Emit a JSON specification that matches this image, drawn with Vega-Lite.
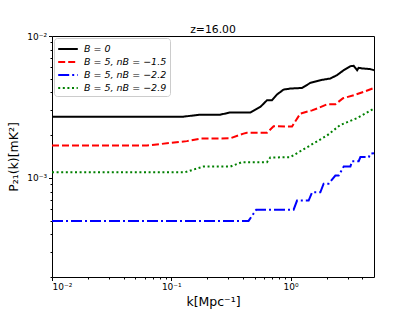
{
  "$schema": "https://vega.github.io/schema/vega-lite/v6.json",
  "width": 322,
  "height": 241,
  "autosize": "none",
  "padding": {"left": 52, "top": 36, "right": 41, "bottom": 34},
  "background": "white",
  "config": {
    "font": "DejaVu Sans",
    "view": {"stroke": "black", "strokeWidth": 1},
    "axis": {
      "grid": false,
      "domainColor": "black",
      "tickColor": "black",
      "labelColor": "black",
      "titleColor": "black",
      "labelFont": "DejaVu Sans",
      "titleFont": "DejaVu Sans",
      "labelFontSize": 9,
      "titleFontSize": 12.5,
      "titleFontWeight": "normal"
    }
  },
  "title": {"text": "z=16.00", "fontSize": 10.8, "fontWeight": "normal", "color": "black", "offset": -3, "font": "DejaVu Sans"},
  "data": {
    "values": [
      {"series": "B = 0", "k": 0.01, "P": 0.00270},
      {"series": "B = 0", "k": 0.1265, "P": 0.00270},
      {"series": "B = 0", "k": 0.1746, "P": 0.00279},
      {"series": "B = 0", "k": 0.257, "P": 0.00279},
      {"series": "B = 0", "k": 0.312, "P": 0.00289},
      {"series": "B = 0", "k": 0.459, "P": 0.00289},
      {"series": "B = 0", "k": 0.557, "P": 0.00316},
      {"series": "B = 0", "k": 0.634, "P": 0.003525},
      {"series": "B = 0", "k": 0.698, "P": 0.003525},
      {"series": "B = 0", "k": 0.769, "P": 0.00387},
      {"series": "B = 0", "k": 0.873, "P": 0.00419},
      {"series": "B = 0", "k": 0.994, "P": 0.00426},
      {"series": "B = 0", "k": 1.246, "P": 0.004305},
      {"series": "B = 0", "k": 1.463, "P": 0.00467},
      {"series": "B = 0", "k": 1.775, "P": 0.00488},
      {"series": "B = 0", "k": 2.154, "P": 0.00502},
      {"series": "B = 0", "k": 2.451, "P": 0.0053},
      {"series": "B = 0", "k": 2.786, "P": 0.00574},
      {"series": "B = 0", "k": 3.17, "P": 0.00613},
      {"series": "B = 0", "k": 3.379, "P": 0.00616},
      {"series": "B = 0", "k": 3.608, "P": 0.00574},
      {"series": "B = 0", "k": 3.72, "P": 0.00597},
      {"series": "B = 0", "k": 3.974, "P": 0.00591},
      {"series": "B = 0", "k": 4.666, "P": 0.00584},
      {"series": "B = 0", "k": 5.0, "P": 0.00574},

      {"series": "B = 5, nB = −1.5", "k": 0.01, "P": 0.00169},
      {"series": "B = 5, nB = −1.5", "k": 0.0624, "P": 0.00169},
      {"series": "B = 5, nB = −1.5", "k": 0.135, "P": 0.001815},
      {"series": "B = 5, nB = −1.5", "k": 0.1746, "P": 0.00189},
      {"series": "B = 5, nB = −1.5", "k": 0.312, "P": 0.0019},
      {"series": "B = 5, nB = −1.5", "k": 0.403, "P": 0.00205},
      {"series": "B = 5, nB = −1.5", "k": 0.43, "P": 0.00208},
      {"series": "B = 5, nB = −1.5", "k": 0.634, "P": 0.00208},
      {"series": "B = 5, nB = −1.5", "k": 0.72, "P": 0.00231},
      {"series": "B = 5, nB = −1.5", "k": 1.028, "P": 0.0023},
      {"series": "B = 5, nB = −1.5", "k": 1.206, "P": 0.00284},
      {"series": "B = 5, nB = −1.5", "k": 1.513, "P": 0.00299},
      {"series": "B = 5, nB = −1.5", "k": 1.666, "P": 0.00308},
      {"series": "B = 5, nB = −1.5", "k": 2.021, "P": 0.0033},
      {"series": "B = 5, nB = −1.5", "k": 2.372, "P": 0.0033},
      {"series": "B = 5, nB = −1.5", "k": 2.75, "P": 0.00364},
      {"series": "B = 5, nB = −1.5", "k": 3.379, "P": 0.00382},
      {"series": "B = 5, nB = −1.5", "k": 4.1, "P": 0.00404},
      {"series": "B = 5, nB = −1.5", "k": 5.0, "P": 0.0043},

      {"series": "B = 5, nB = −2.2", "k": 0.01, "P": 0.000497},
      {"series": "B = 5, nB = −2.2", "k": 0.444, "P": 0.000497},
      {"series": "B = 5, nB = −2.2", "k": 0.515, "P": 0.000597},
      {"series": "B = 5, nB = −2.2", "k": 1.06, "P": 0.000597},
      {"series": "B = 5, nB = −2.2", "k": 1.132, "P": 0.000691},
      {"series": "B = 5, nB = −2.2", "k": 1.416, "P": 0.000691},
      {"series": "B = 5, nB = −2.2", "k": 1.513, "P": 0.000791},
      {"series": "B = 5, nB = −2.2", "k": 1.775, "P": 0.000791},
      {"series": "B = 5, nB = −2.2", "k": 1.892, "P": 0.00091},
      {"series": "B = 5, nB = −2.2", "k": 2.084, "P": 0.00091},
      {"series": "B = 5, nB = −2.2", "k": 2.372, "P": 0.001038},
      {"series": "B = 5, nB = −2.2", "k": 2.528, "P": 0.001038},
      {"series": "B = 5, nB = −2.2", "k": 2.786, "P": 0.0012},
      {"series": "B = 5, nB = −2.2", "k": 3.17, "P": 0.0012},
      {"series": "B = 5, nB = −2.2", "k": 3.275, "P": 0.00131},
      {"series": "B = 5, nB = −2.2", "k": 3.72, "P": 0.00131},
      {"series": "B = 5, nB = −2.2", "k": 3.846, "P": 0.0014},
      {"series": "B = 5, nB = −2.2", "k": 4.52, "P": 0.0014},
      {"series": "B = 5, nB = −2.2", "k": 4.666, "P": 0.00148},
      {"series": "B = 5, nB = −2.2", "k": 5.0, "P": 0.00149},

      {"series": "B = 5, nB = −2.9", "k": 0.01, "P": 0.001096},
      {"series": "B = 5, nB = −2.9", "k": 0.1306, "P": 0.001096},
      {"series": "B = 5, nB = −2.9", "k": 0.185, "P": 0.0012},
      {"series": "B = 5, nB = −2.9", "k": 0.312, "P": 0.0012},
      {"series": "B = 5, nB = −2.9", "k": 0.391, "P": 0.00129},
      {"series": "B = 5, nB = −2.9", "k": 0.634, "P": 0.00129},
      {"series": "B = 5, nB = −2.9", "k": 0.675, "P": 0.00139},
      {"series": "B = 5, nB = −2.9", "k": 0.994, "P": 0.0014},
      {"series": "B = 5, nB = −2.9", "k": 1.206, "P": 0.00154},
      {"series": "B = 5, nB = −2.9", "k": 1.56, "P": 0.00175},
      {"series": "B = 5, nB = −2.9", "k": 2.021, "P": 0.00199},
      {"series": "B = 5, nB = −2.9", "k": 2.612, "P": 0.00236},
      {"series": "B = 5, nB = −2.9", "k": 3.608, "P": 0.00264},
      {"series": "B = 5, nB = −2.9", "k": 5.0, "P": 0.00308}
    ]
  },
  "layer": [
    {
      "mark": {"type": "line", "strokeWidth": 2, "clip": true},
      "encoding": {
        "x": {
          "field": "k", "type": "quantitative",
          "scale": {"type": "log", "domain": [0.01, 5], "nice": false},
          "axis": {
            "orient": "bottom",
            "values": [0.01, 0.1, 1],
            "labelExpr": "round(log(datum.value)/LN10) == -2 ? '10⁻²' : round(log(datum.value)/LN10) == -1 ? '10⁻¹' : '10⁰'",
            "title": "k[Mpc⁻¹]",
            "tickSize": 3.5,
            "labelPadding": 2,
            "titlePadding": 4,
            "domain": false
          }
        },
        "y": {
          "field": "P", "type": "quantitative",
          "scale": {"type": "log", "domain": [0.0002, 0.01], "nice": false},
          "axis": {
            "orient": "left",
            "values": [0.001, 0.01],
            "labelExpr": "round(log(datum.value)/LN10) == -3 ? '10⁻³' : '10⁻²'",
            "title": "P₂₁(k)[mK²]",
            "tickSize": 3.5,
            "labelPadding": 2,
            "titlePadding": 6,
            "domain": false
          }
        },
        "color": {
          "field": "series", "type": "nominal",
          "scale": {
            "domain": ["B = 0", "B = 5, nB = −1.5", "B = 5, nB = −2.2", "B = 5, nB = −2.9"],
            "range": ["#000000", "#ff0000", "#0000ff", "#008000"]
          },
          "legend": {
            "title": null,
            "orient": "top-left",
            "offset": 2,
            "padding": 3,
            "strokeColor": "#cccccc",
            "fillColor": "white",
            "cornerRadius": 3,
            "symbolType": "M-1.4,0H1.4",
            "symbolSize": 196,
            "symbolOffset": 3,
            "symbolStrokeWidth": 2,
            "symbolFillColor": "transparent",
            "labelFontSize": 9.5,
            "labelFontStyle": "italic",
            "labelFont": "DejaVu Sans",
            "labelColor": "black",
            "rowPadding": -0.7,
            "labelOffset": 8
          }
        },
        "strokeDash": {
          "field": "series", "type": "nominal",
          "scale": {
            "domain": ["B = 0", "B = 5, nB = −1.5", "B = 5, nB = −2.2", "B = 5, nB = −2.9"],
            "range": [[1, 0], [7, 3], [11, 3, 2, 3], [2, 2.6]]
          },
          "legend": {
            "title": null,
            "orient": "top-left",
            "offset": 2,
            "padding": 3,
            "strokeColor": "#cccccc",
            "fillColor": "white",
            "cornerRadius": 3,
            "symbolType": "M-1.4,0H1.4",
            "symbolSize": 196,
            "symbolOffset": 3,
            "symbolStrokeWidth": 2,
            "symbolFillColor": "transparent",
            "labelFontSize": 9.5,
            "labelFontStyle": "italic",
            "labelFont": "DejaVu Sans",
            "labelColor": "black",
            "rowPadding": -0.7,
            "labelOffset": 8
          }
        }
      }
    },
    {
      "mark": {"type": "point", "opacity": 0},
      "encoding": {
        "x": {
          "field": "k", "type": "quantitative",
          "scale": {"type": "log", "domain": [0.01, 5], "nice": false},
          "axis": {
            "orient": "bottom",
            "values": [0.02, 0.03, 0.04, 0.05, 0.06, 0.07, 0.08, 0.09, 0.2, 0.3, 0.4, 0.5, 0.6, 0.7, 0.8, 0.9, 2, 3, 4],
            "labels": false,
            "title": null,
            "tickSize": 2,
            "domain": false
          }
        },
        "y": {
          "field": "P", "type": "quantitative",
          "scale": {"type": "log", "domain": [0.0002, 0.01], "nice": false},
          "axis": {
            "orient": "left",
            "values": [0.0002, 0.0003, 0.0004, 0.0005, 0.0006, 0.0007, 0.0008, 0.0009, 0.002, 0.003, 0.004, 0.005, 0.006, 0.007, 0.008, 0.009],
            "labels": false,
            "title": null,
            "tickSize": 2,
            "domain": false
          }
        }
      }
    }
  ],
  "resolve": {"axis": {"x": "independent", "y": "independent"}}
}
